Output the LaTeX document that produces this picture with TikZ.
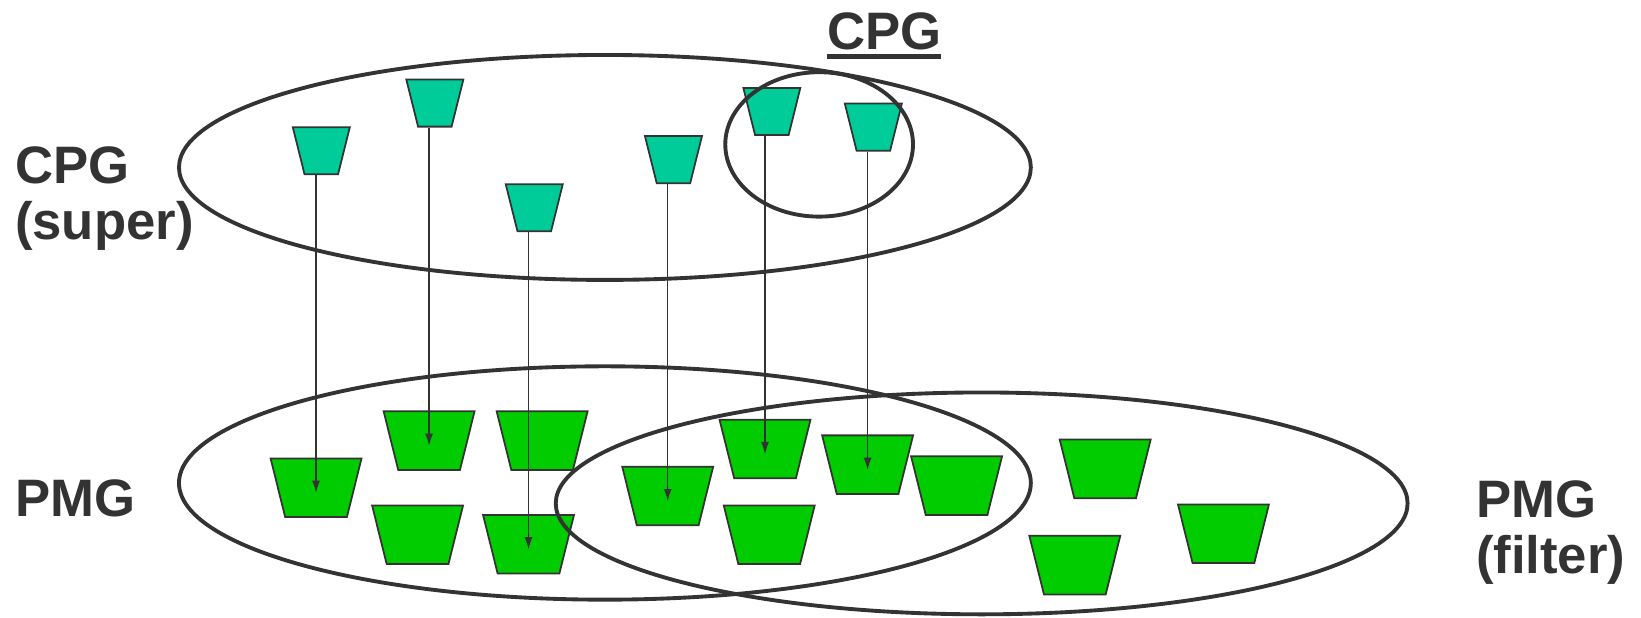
\documentclass[tikz,border=0pt]{standalone}
\usepackage{fontspec}
\setmainfont{Liberation Sans}
\usepackage{tikz}
\usetikzlibrary{arrows.meta,positioning,shapes.geometric}
\definecolor{ink}{HTML}{333333}
\definecolor{cpgfill}{HTML}{00CC99}
\definecolor{pmgfill}{HTML}{00CC00}
\newcommand{\thickul}[1]{\setbox0\hbox{#1}\vtop{\copy0\kern2.4pt\hrule height 3pt width \wd0}}
\tikzset{
  cpgnode/.style={trapezium, shape border rotate=180, trapezium left angle=76, trapezium right angle=76,
    draw=ink, line width=1pt, fill=cpgfill, inner xsep=0.3355cm, inner ysep=0.471cm},
  pmgnode/.style={cpgnode, fill=pmgfill, inner xsep=0.6175cm, inner ysep=0.586cm},
  grouping/.style={ellipse, draw=ink, line width=2.2pt, inner sep=0pt},
  lbl/.style={text=ink, font=\fontsize{30}{32}\selectfont\bfseries, inner sep=0pt, align=left},
  maplink/.style={draw=ink, line width=0.7pt, shorten >=-1mm, -{Latex[length=2.4mm,width=1.6mm]}}
}

\begin{document}
\begin{tikzpicture}[x=0.020932cm, y=-0.020932cm]
  \useasboundingbox (0,0) rectangle (1568,590);
  \node[cpgnode] (c1) at (307,144) {};
  \node[cpgnode] (c2) at (415.5,98.5) {};
  \node[cpgnode] (c3) at (510.5,198.5) {};
  \node[cpgnode] (c4) at (643.5,152.5) {};
  \node[cpgnode] (c5) at (737.5,106.5) {};
  \node[cpgnode] (c6) at (834.5,121.5) {};
  \node[pmgnode] (p1) at (302,466) {};
  \node[pmgnode] (p2) at (410,421) {};
  \node[pmgnode] (p3) at (518,421) {};
  \node[pmgnode] (p4) at (399,511) {};
  \node[pmgnode] (p5) at (505,520) {};
  \node[pmgnode] (p6) at (638,474) {};
  \node[pmgnode] (p7) at (731,429) {};
  \node[pmgnode] (p8) at (829,444) {};
  \node[pmgnode] (p9) at (914,464) {};
  \node[pmgnode] (p10) at (735,511) {};
  \node[pmgnode] (p11) at (1056,448) {};
  \node[pmgnode] (p12) at (1169,510) {};
  \node[pmgnode] (p13) at (1027,540) {};
  \foreach \a/\b in {c1/p1,c2/p2,c3/p5,c4/p6,c5/p7,c6/p8}
    \draw[maplink] (\a.south -| \b.center) -- (\b.center);
  \node[grouping, minimum width=17.04cm, minimum height=4.5cm] (super) at (578,160) {};
  \node[grouping, minimum width=3.755cm, minimum height=2.889cm] (cpg) at (782.7,138) {};
  \node[grouping, minimum width=17.04cm, minimum height=4.668cm] (pmg) at (578,461.5) {};
  \node[grouping, minimum width=17.04cm, minimum height=4.438cm] (filter) at (938,481) {};
  \node[lbl, anchor=base west] (supertxt) at (14,229) {CPG\\(super)};
  \node[lbl, anchor=base west] (pmgtxt) at (14,494) {PMG};
  \node[lbl, anchor=base west] (filtertxt) at (1410,548) {PMG\\(filter)};
  \node[lbl, anchor=base] (cpgtxt) at (845,47) {\thickul{CPG}};
\end{tikzpicture}
\end{document}
